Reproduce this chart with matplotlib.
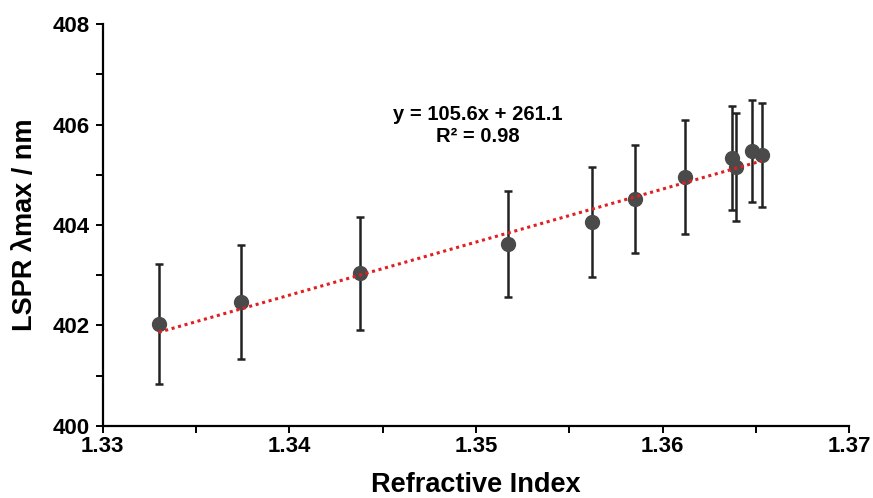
import matplotlib
matplotlib.use("Agg")
import matplotlib.pyplot as plt
from matplotlib.ticker import MultipleLocator

plt.rcParams['font.family'] = ['Liberation Sans', 'DejaVu Sans']
plt.rcParams['font.weight'] = 'bold'

# data
ri = [1.3330, 1.3374, 1.3438, 1.3517, 1.3562, 1.3585, 1.3612, 1.3637, 1.3639, 1.3648, 1.3653]
lam = [402.03, 402.47, 403.04, 403.62, 404.06, 404.52, 404.96, 405.33, 405.15, 405.47, 405.39]
err = [1.20, 1.14, 1.12, 1.06, 1.09, 1.08, 1.13, 1.03, 1.07, 1.02, 1.03]

slope = 105.6
intercept = 261.1
eq_text = "y = 105.6x + 261.1\nR² = 0.98"

fig = plt.figure(figsize=(8.73, 4.98), dpi=100)
ax = fig.add_axes([0.1176, 0.1446, 0.8554, 0.8072])

# trendline
xl = [min(ri), max(ri)]
yl = [slope*v + intercept for v in xl]
ax.plot(xl, yl, linestyle=(0, (1, 1.2)), color='#e02020', lw=2.2, zorder=3)

ax.errorbar(ri, lam, yerr=err, fmt='o', color='#4a4a4a', ms=10,
            ecolor='#222222', elinewidth=1.8, capsize=3, capthick=1.8, zorder=2)

ax.text(1.3501, 405.98, eq_text, ha='center', va='center', fontsize=14.5, fontweight='bold',
        linespacing=1.2)

ax.set_xlim(1.33, 1.37)
ax.set_ylim(400, 408)
ax.xaxis.set_major_locator(MultipleLocator(0.01))
ax.xaxis.set_minor_locator(MultipleLocator(0.005))
ax.yaxis.set_major_locator(MultipleLocator(2))
ax.yaxis.set_minor_locator(MultipleLocator(1))
ax.xaxis.set_major_formatter(matplotlib.ticker.FormatStrFormatter('%.2f'))

for s in ['top', 'right']:
    ax.spines[s].set_visible(False)
for s in ['left', 'bottom']:
    ax.spines[s].set_linewidth(1.6)
    ax.spines[s].set_color('black')

ax.tick_params(which='both', direction='out', width=1.4, labelsize=16)
ax.tick_params(axis='y', pad=4)
ax.tick_params(axis='x', pad=2)
ax.tick_params(which='major', length=5)
ax.tick_params(which='minor', length=5)

ax.set_xlabel("Refractive Index", fontsize=19.5, fontweight='bold')
ax.set_ylabel("LSPR λmax / nm", fontsize=19.5, fontweight='bold')
ax.xaxis.set_label_coords(0.5, -0.115)
ax.yaxis.set_label_coords(-0.086, 0.5)

fig.savefig("out.png", dpi=100)
